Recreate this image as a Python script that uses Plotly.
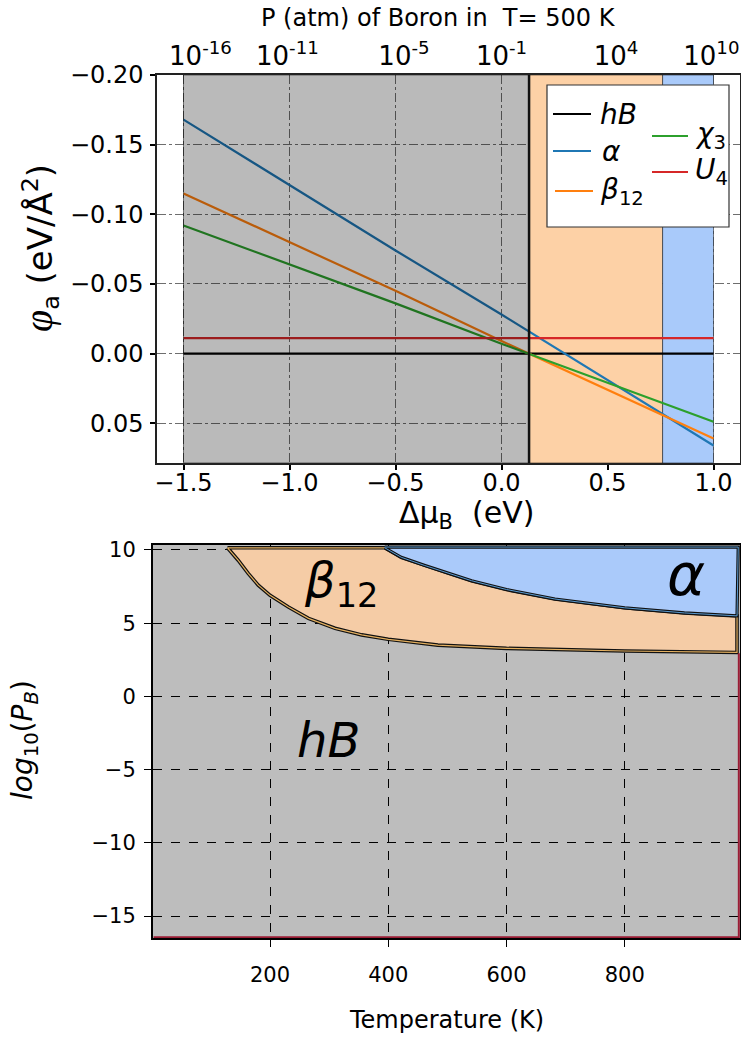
import plotly.graph_objects as go

W, H = 741, 1040
FONT = "DejaVu Sans"

# ---------------- top panel data ----------------
dmu = [-1.5, -1.0, -0.5, 0.0, 0.5, 1.0]
phi_hB = [0.0, 0.0, 0.0, 0.0, 0.0, 0.0]
phi_alpha = [-0.168, -0.121, -0.074, -0.028, 0.019, 0.066]
phi_beta12 = [-0.115, -0.080, -0.045, -0.009, 0.026, 0.061]
phi_chi3 = [-0.092, -0.064, -0.036, -0.007, 0.021, 0.049]
phi_U4 = [-0.011, -0.011, -0.011, -0.011, -0.011, -0.011]
phase_bounds = [-1.5, 0.13, 0.76, 1.0]          # hB | beta12 | alpha
top_xrange = [-1.625, 1.125]
top_yrange = [0.0786, -0.2]
top_xticks = [-1.5, -1.0, -0.5, 0.0, 0.5, 1.0]
top_xticktext = ["\u22121.5", "\u22121.0", "\u22120.5", "0.0", "0.5", "1.0"]
top_yticks = [-0.20, -0.15, -0.10, -0.05, 0.0, 0.05]
top_yticktext = ["\u22120.20", "\u22120.15", "\u22120.10", "\u22120.05", "0.00", "0.05"]
p_tickpos = [-1.42, -1.01, -0.46, 0.0, 0.54, 0.99]
p_ticktext = ["10<sup>-16</sup>", "10<sup>-11</sup>", "10<sup>-5</sup>",
              "10<sup>-1</sup>", "10<sup>4</sup>", "10<sup>10</sup>"]

# ---------------- bottom panel data ----------------
T_hb_beta = [128, 146, 163, 180, 200, 231, 265, 310, 355, 400, 484, 600, 800, 990]
logP_hb_beta = [10.15, 9.3, 8.4, 7.6, 6.9, 6.1, 5.33, 4.65, 4.2, 3.9, 3.5, 3.28, 3.1, 3.0]
T_beta_alpha = [394, 422, 461, 500, 541, 600, 682, 800, 901, 990]
logP_beta_alpha = [10.15, 9.5, 8.95, 8.45, 7.9, 7.3, 6.65, 6.05, 5.7, 5.5]
alpha_top_T = [992]
alpha_top_logP = [10.2]
U4_edge_T = [993, 993, 3]
U4_edge_logP = [2.95, -16.45, -16.45]
bot_xrange = [2, 995]
bot_yrange = [-16.5, 10.34]
bot_xticks = [200, 400, 600, 800]
bot_yticks = [10, 5, 0, -5, -10, -15]
bot_yticktext = ["10", "5", "0", "\u22125", "\u221210", "\u221215"]

C_GRAY_OVER = "rgba(0,0,0,0.27)"
C_ORANGE_SPAN = "#fdd1a6"
C_BLUE_SPAN = "#a9cafa"
C_BOT_GRAY = "#bdbdbd"
C_BOT_ORANGE = "#f5cca6"
C_BOT_BLUE = "#aacafa"


def pxx(x):
    return x / W


def pxy(y):
    return 1 - y / H


fig = go.Figure()

# ---- top: coloured spans below the lines
ylo, yhi = top_yrange[1], top_yrange[0]
fig.add_trace(go.Scatter(
    x=[phase_bounds[1], phase_bounds[2], phase_bounds[2], phase_bounds[1], phase_bounds[1]],
    y=[ylo, ylo, yhi, yhi, ylo], fill="toself", fillcolor=C_ORANGE_SPAN, mode="lines",
    line=dict(color="rgba(0,0,0,0.5)", width=1), showlegend=False, hoverinfo="skip",
    xaxis="x", yaxis="y"))
fig.add_trace(go.Scatter(
    x=[phase_bounds[2], phase_bounds[3], phase_bounds[3], phase_bounds[2], phase_bounds[2]],
    y=[ylo, ylo, yhi, yhi, ylo], fill="toself", fillcolor=C_BLUE_SPAN, mode="lines",
    line=dict(color="rgba(0,0,0,0.5)", width=1), showlegend=False, hoverinfo="skip",
    xaxis="x", yaxis="y"))

series = [
    ("hB", phi_hB, "#000000"),
    ("alpha", phi_alpha, "#1f77b4"),
    ("beta12", phi_beta12, "#ff7f0e"),
    ("chi3", phi_chi3, "#2ca02c"),
    ("U4", phi_U4, "#d62728"),
]
for name, vals, col in series:
    fig.add_trace(go.Scatter(x=dmu, y=vals, mode="lines", name=name,
                             line=dict(color=col, width=2.2), showlegend=False,
                             xaxis="x", yaxis="y"))

# gray hB span drawn over the lines (darkens them)
fig.add_trace(go.Scatter(
    x=[phase_bounds[0], phase_bounds[1], phase_bounds[1], phase_bounds[0], phase_bounds[0]],
    y=[ylo, ylo, yhi, yhi, ylo], fill="toself", fillcolor=C_GRAY_OVER, mode="lines",
    line=dict(color="rgba(0,0,0,0.5)", width=1), showlegend=False, hoverinfo="skip",
    xaxis="x", yaxis="y"))
fig.add_trace(go.Scatter(
    x=[phase_bounds[1], phase_bounds[1]], y=[ylo, yhi], mode="lines",
    line=dict(color="#111111", width=2.5), showlegend=False, hoverinfo="skip",
    xaxis="x", yaxis="y"))
# invisible trace so that the top pressure axis is drawn
fig.add_trace(go.Scatter(x=p_tickpos, y=phi_hB, mode="markers", marker=dict(opacity=0),
                         showlegend=False, hoverinfo="skip", xaxis="x3", yaxis="y"))

# ---- bottom: phase regions (black outline with a thin coloured inner line)
beta_x = [T_hb_beta[0]] + T_beta_alpha + T_hb_beta[::-1]
beta_y = [logP_hb_beta[0]] + logP_beta_alpha + logP_hb_beta[::-1]
alpha_x = T_beta_alpha + alpha_top_T + [T_beta_alpha[0]]
alpha_y = logP_beta_alpha + alpha_top_logP + [alpha_top_logP[0]]

fig.add_trace(go.Scatter(
    x=beta_x, y=beta_y, fill="toself", fillcolor=C_BOT_ORANGE, mode="lines",
    line=dict(color="#111111", width=3.6), showlegend=False, hoverinfo="skip",
    xaxis="x2", yaxis="y2"))
fig.add_trace(go.Scatter(
    x=beta_x, y=beta_y, mode="lines",
    line=dict(color="#e4b060", width=1.2), showlegend=False, hoverinfo="skip",
    xaxis="x2", yaxis="y2"))
fig.add_trace(go.Scatter(
    x=alpha_x, y=alpha_y, fill="toself", fillcolor=C_BOT_BLUE, mode="lines",
    line=dict(color="#111111", width=3.2), showlegend=False, hoverinfo="skip",
    xaxis="x2", yaxis="y2"))
fig.add_trace(go.Scatter(
    x=alpha_x, y=alpha_y, mode="lines",
    line=dict(color="#5a9ad0", width=1.0), showlegend=False, hoverinfo="skip",
    xaxis="x2", yaxis="y2"))
fig.add_trace(go.Scatter(
    x=U4_edge_T, y=U4_edge_logP, mode="lines",
    line=dict(color="#9a1c35", width=2), showlegend=False, hoverinfo="skip",
    xaxis="x2", yaxis="y2"))

tick_font = dict(family=FONT, size=24, color="black")
ptick_font = dict(family=FONT, size=26, color="black")
bot_tick_font = dict(family=FONT, size=21, color="black")

fig.update_layout(
    width=W, height=H,
    margin=dict(l=0, r=0, t=0, b=0, autoexpand=False),
    paper_bgcolor="white",
    plot_bgcolor="white",
    font=dict(family=FONT, color="black"),
    showlegend=False,
    xaxis=dict(domain=[pxx(157), pxx(740)], anchor="y", range=top_xrange,
               tickvals=top_xticks, ticktext=top_xticktext, tickfont=tick_font,
               ticks="outside", ticklen=5, tickwidth=1.5, tickcolor="black",
               showline=True, linecolor="#222222", linewidth=1.5, mirror=True,
               showgrid=True, gridcolor="#6e6e6e", griddash="dashdot", gridwidth=1,
               zeroline=False, layer="above traces", ticklabelstandoff=-8,
               automargin=False),
    yaxis=dict(domain=[pxy(463), pxy(75)], anchor="x", range=top_yrange,
               tickvals=top_yticks, ticktext=top_yticktext, tickfont=tick_font,
               ticks="outside", ticklen=5, tickwidth=1.5, tickcolor="black",
               showline=True, linecolor="#222222", linewidth=1.5, mirror=True,
               showgrid=True, gridcolor="#6e6e6e", griddash="dashdot", gridwidth=1,
               zeroline=False, layer="above traces", ticklabelstandoff=2,
               automargin=False),
    xaxis3=dict(overlaying="x", side="top", anchor="y", range=top_xrange,
                tickvals=p_tickpos, ticktext=p_ticktext, tickfont=ptick_font,
                ticks="", showgrid=False, zeroline=False, showline=False,
                ticklabelstandoff=4, automargin=False, ticklabeloverflow="allow"),
    xaxis2=dict(domain=[pxx(153), pxx(740)], anchor="y2", range=bot_xrange,
                tickvals=bot_xticks, tickfont=bot_tick_font,
                ticks="outside", ticklen=7, tickwidth=1.2, tickcolor="black",
                showline=True, linecolor="black", linewidth=2, mirror=True,
                showgrid=True, gridcolor="black", griddash="dash", gridwidth=1,
                zeroline=False, layer="above traces", ticklabelstandoff=10,
                automargin=False),
    yaxis2=dict(domain=[pxy(938), pxy(545)], anchor="x2", range=bot_yrange,
                tickvals=bot_yticks, ticktext=bot_yticktext, tickfont=bot_tick_font,
                ticks="outside", ticklen=7, tickwidth=1.2, tickcolor="black",
                showline=True, linecolor="black", linewidth=2, mirror=True,
                showgrid=True, gridcolor="black", griddash="dash", gridwidth=1,
                zeroline=False, layer="above traces", ticklabelstandoff=4,
                automargin=False),
)

# bottom gray background as a shape below traces
fig.add_shape(type="rect", xref="x2", yref="y2", x0=bot_xrange[0], x1=bot_xrange[1],
              y0=bot_yrange[0], y1=bot_yrange[1], fillcolor=C_BOT_GRAY,
              line=dict(width=0), layer="below")

# ---- legend (manual, two columns)
fig.add_shape(type="rect", xref="paper", yref="paper", x0=pxx(547), x1=pxx(729),
              y0=pxy(227), y1=pxy(85), fillcolor="white",
              line=dict(color="#333333", width=1.2), layer="above")
legend_items = [
    ("<i>hB</i>", "#000000", 553, 591, 114, 598),
    ("<i>\u03b1</i>", "#1f77b4", 553, 591, 151, 600),
    ("<i>\u03b2</i><sub>12</sub>", "#ff7f0e", 555, 593, 191, 598),
    ("<i>\u03c7</i><sub>3</sub>", "#2ca02c", 652, 688, 136, 693),
    ("<i>U</i><sub>4</sub>", "#d62728", 652, 688, 172, 693),
]
for txt, col, x0, x1, yl, xt in legend_items:
    fig.add_shape(type="line", xref="paper", yref="paper", x0=pxx(x0), x1=pxx(x1),
                  y0=pxy(yl), y1=pxy(yl), line=dict(color=col, width=2.2), layer="above")
    fig.add_annotation(xref="paper", yref="paper", x=pxx(xt), y=pxy(yl),
                       xanchor="left", yanchor="middle", text=txt, showarrow=False,
                       font=dict(family=FONT, size=28, color="black"))

# ---- titles
fig.add_annotation(xref="paper", yref="paper", x=pxx(438), y=pxy(18),
                   text="P (atm) of Boron in \u00a0T= 500 K", showarrow=False,
                   xanchor="center", yanchor="middle", font=dict(family=FONT, size=24))
fig.add_annotation(xref="paper", yref="paper", x=pxx(467), y=pxy(514),
                   text="\u0394\u03bc<sub>B</sub> \u00a0(eV)", showarrow=False,
                   xanchor="center", yanchor="middle", font=dict(family=FONT, size=30))
fig.add_annotation(xref="paper", yref="paper", x=pxx(40), y=pxy(248),
                   text="<span style=\"font-family:'Liberation Serif';font-style:italic;font-size:40px\">\u03c6</span>"
                        "<sub>a</sub> (eV/\u00c5<sup>2</sup>)",
                   showarrow=False, textangle=-90, xanchor="center", yanchor="middle",
                   font=dict(family=FONT, size=34))
fig.add_annotation(xref="paper", yref="paper", x=pxx(446), y=pxy(1020),
                   text="Temperature (K)", showarrow=False,
                   xanchor="center", yanchor="middle", font=dict(family=FONT, size=24))
fig.add_annotation(xref="paper", yref="paper", x=pxx(24), y=pxy(740),
                   text="<i>log</i><sub>10</sub>(<i>P</i><sub><i>B</i></sub>)", showarrow=False,
                   textangle=-90, xanchor="center", yanchor="middle",
                   font=dict(family=FONT, size=28))

# ---- phase labels in the bottom panel
phase_labels = [("<i>\u03b2</i><sub>12</sub>", 320, 7.7, 48),
                ("<i>\u03b1</i>", 904, 8.3, 58),
                ("<i>hB</i>", 299, -3.0, 48)]
for txt, T, lp, sz in phase_labels:
    fig.add_annotation(xref="x2", yref="y2", x=T, y=lp, text=txt, showarrow=False,
                       xanchor="center", yanchor="middle",
                       font=dict(family=FONT, size=sz, color="black"))

fig.write_html("out.html")
